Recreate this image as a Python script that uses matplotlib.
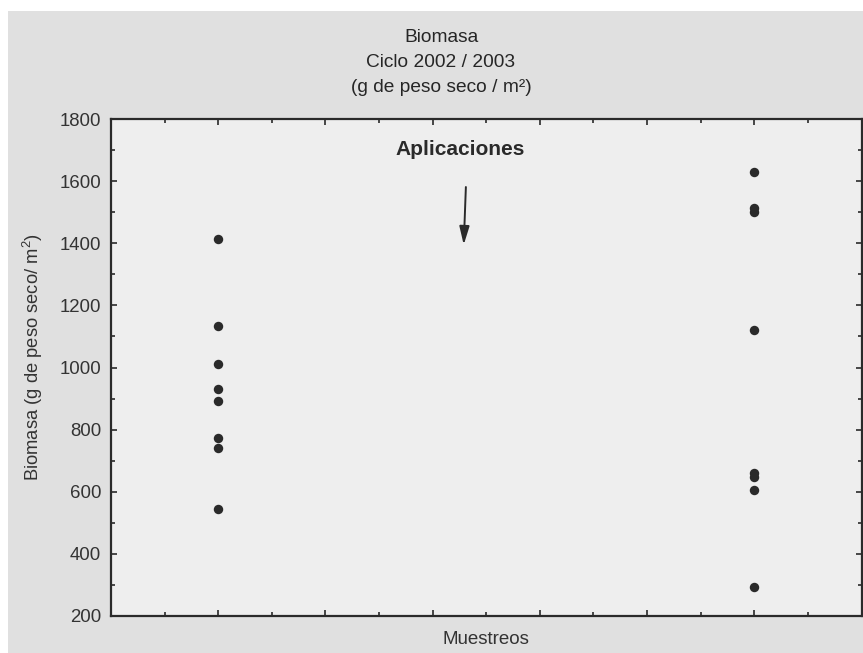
import numpy as np
import matplotlib
matplotlib.use("Agg")
import matplotlib.pyplot as plt
from matplotlib.patches import Rectangle
from matplotlib.ticker import MultipleLocator

plt.rcParams['font.family'] = ['Liberation Sans', 'DejaVu Sans']

# sampling columns and biomass values (g dry weight / m2)
muestreo_1 = [1414, 1133, 1010, 930, 893, 772, 740, 543]
muestreo_2 = [1628, 1512, 1502, 1120, 660, 647, 605, 293]
x_positions = [1, 6]

title_lines = ["Biomasa", "Ciclo 2002 / 2003", "(g de peso seco / m\u00b2)"]
y_label = "Biomasa (g de peso seco/ m$\\mathregular{^2}$)"
x_label = "Muestreos"
note = "Aplicaciones"

W, H = 863, 653
fig = plt.figure(figsize=(W / 100, H / 100), dpi=100)
fig.patch.set_facecolor("white")

# gray panel behind the chart
fig.patches.append(Rectangle((8 / W, 0), 1 - 8 / W, (H - 11) / H,
                             transform=fig.transFigure, facecolor="#e0e0e0",
                             edgecolor="none", zorder=-5))

ax = fig.add_axes([111 / W, (H - 616) / H, (861.5 - 111) / W, (616 - 119) / H])
ax.set_facecolor("#eeeeee")

dark = "#2a2a2a"
for xp, vals in zip(x_positions, [muestreo_1, muestreo_2]):
    ax.plot([xp] * len(vals), vals, "o", color=dark, markersize=6.8,
            markeredgewidth=0, linestyle="none")

ax.set_xlim(0, 7)
ax.set_ylim(200, 1800)
ax.yaxis.set_major_locator(MultipleLocator(200))
ax.yaxis.set_minor_locator(MultipleLocator(100))
ax.xaxis.set_major_locator(MultipleLocator(1))
ax.xaxis.set_minor_locator(MultipleLocator(0.5))
ax.set_xticklabels([])

ax.tick_params(axis="both", which="both", direction="in", color=dark,
               top=True, right=True, width=1.2)
ax.tick_params(axis="y", which="major", length=4, labelsize=13.4,
               labelcolor="#333333", pad=7)
ax.tick_params(axis="y", which="minor", length=3)
ax.tick_params(axis="x", which="major", length=4)
ax.tick_params(axis="x", which="minor", length=3)
for s in ax.spines.values():
    s.set_color(dark)
    s.set_linewidth(1.6)

# annotation with arrow
ax.text(3.26, 1702, note, ha="center", va="center", fontsize=15,
        fontweight="bold", color="#2a2a2a")
ax.annotate("", xy=(3.29, 1395), xytext=(3.31, 1581),
            arrowprops=dict(arrowstyle="-|>,head_length=1.1,head_width=0.3",
                            color=dark, lw=1.4, shrinkA=0, shrinkB=0))

# titles and axis labels in figure pixel space
for i, line in enumerate(title_lines):
    fig.text(441 / W, 1 - (37 + 25.5 * i) / H, line, ha="center", va="center",
             fontsize=13.8, color="#262626")
fig.text(33 / W, 1 - 357 / H, y_label, rotation=90, ha="center", va="center",
         fontsize=13.2, color="#333333")
fig.text(486 / W, 1 - 640 / H, x_label, ha="center", va="center",
         fontsize=13.5, color="#333333")

fig.savefig("out.png", dpi=100, facecolor=fig.get_facecolor())
